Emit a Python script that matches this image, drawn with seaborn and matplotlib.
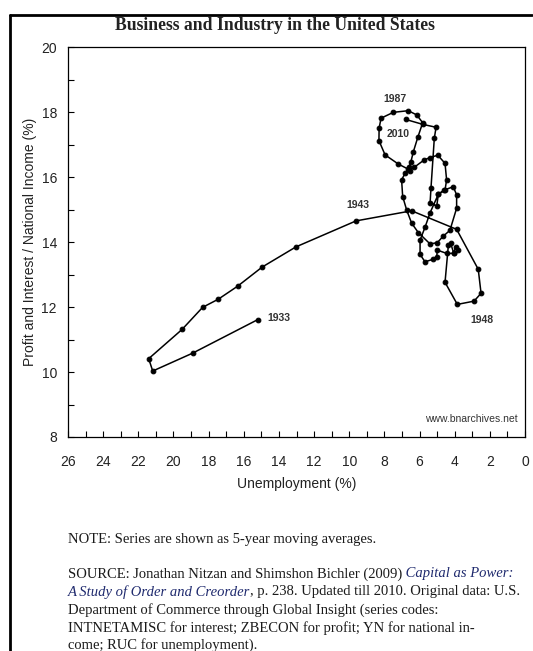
import numpy as np
import pandas as pd
import matplotlib
matplotlib.use("Agg")
import matplotlib.pyplot as plt
import seaborn as sns
from matplotlib.lines import Line2D
from matplotlib.ticker import MultipleLocator

# ---------------- data ----------------
years = list(range(1933, 2011))
unemployment = [
    15.21, 18.91, 21.18, 21.41, 19.51, 18.34, 17.45, 16.35, 14.95, 13.03,   # 1933-1942
    9.61, 6.45, 3.89, 2.66, 2.50, 2.90, 3.85, 4.55, 4.36, 4.23,            # 1943-1952
    4.05, 3.95, 3.79, 4.04, 4.46, 4.99, 5.02, 5.22, 5.69, 5.97,            # 1953-1962
    5.97, 5.69, 5.40, 4.93, 4.60, 4.08, 3.89, 3.89, 4.27, 4.65,            # 1963-1972
    4.99, 5.40, 6.07, 6.45, 6.73, 6.96, 7.02, 6.83, 6.64, 7.21,            # 1973-1982
    7.96, 8.31, 8.30, 8.19, 7.49, 6.64, 6.16, 5.82, 6.10, 6.35,            # 1983-1992
    6.50, 6.60, 6.55, 6.30, 5.75, 5.40, 4.96, 4.55, 4.46, 4.55,            # 1993-2002
    4.93, 5.02, 5.40, 5.35, 5.16, 5.06, 5.82, 6.78,                        # 2003-2010
]
profit_interest = [
    11.61, 10.58, 10.03, 10.41, 11.31, 11.99, 12.24, 12.64, 13.23, 13.85,
    14.65, 14.96, 14.39, 13.16, 12.42, 12.18, 12.08, 12.76, 13.90, 13.96,
    13.65, 13.85, 13.75, 13.65, 13.65, 13.75, 13.55, 13.47, 13.39, 13.62,
    14.06, 14.45, 14.90, 15.47, 15.60, 15.70, 15.45, 15.04, 14.36, 14.18,
    13.98, 13.94, 14.29, 14.58, 14.98, 15.40, 15.91, 16.11, 16.24, 16.40,
    16.68, 17.12, 17.50, 17.81, 17.99, 18.04, 17.91, 17.67, 17.22, 16.78,
    16.45, 16.30, 16.20, 16.30, 16.52, 16.60, 16.67, 16.42, 15.91, 15.60,
    15.47, 15.11, 15.20, 15.65, 17.19, 17.53, 17.62, 17.77,
]
label_years = ["1933", "1943", "1948", "1987", "2010"]
label_x = [14.02, 9.5, 2.47, 7.42, 7.2]
label_y = [11.66, 15.14, 11.6, 18.4, 17.32]

x_ticks = list(range(0, 27, 2))
y_ticks = list(range(8, 21, 2))

title = "Business and Industry in the United States"
x_label = "Unemployment (%)"
y_label = "Profit and Interest / National Income (%)"
watermark = "www.bnarchives.net"

df = pd.DataFrame({"year": years, "unemployment": unemployment,
                   "profit": profit_interest})

# ---------------- figure ----------------
sns.set_theme(style="white")
plt.rcParams["font.family"] = ["Liberation Sans", "DejaVu Sans"]

W, H = 533, 651
fig = plt.figure(figsize=(W / 100, H / 100), dpi=100)
fig.patch.set_facecolor("white")
ax = fig.add_axes([68 / W, 1 - 437 / H, (525 - 68) / W, (437 - 47) / H])

sns.lineplot(data=df, x="unemployment", y="profit", sort=False, estimator=None,
             color="black", linewidth=1.1, marker="o", markersize=3.4,
             markeredgecolor="black", markerfacecolor="black", ax=ax)

ax.set_xlim(26, 0)
ax.set_ylim(8, 20)
ax.set_xticks(x_ticks)
ax.set_yticks(y_ticks)
ax.xaxis.set_minor_locator(MultipleLocator(1))
ax.yaxis.set_minor_locator(MultipleLocator(1))
ax.tick_params(axis="both", which="both", direction="in", length=4, width=0.8,
               color="black", top=False, right=False, bottom=True, left=True)
ax.tick_params(axis="x", which="major", labelsize=10, pad=13, labelcolor="#222222")
ax.tick_params(axis="y", which="major", labelsize=10, pad=8, labelcolor="#222222")
for s in ax.spines.values():
    s.set_color("black")
    s.set_linewidth(0.9)
ax.grid(False)

ax.set_xlabel(x_label, fontsize=10, color="#222222", va="center")
ax.set_ylabel(y_label, fontsize=10, color="#222222", va="center")
ax.xaxis.set_label_coords(0.5, (437 - 484) / 390)
ax.yaxis.set_label_coords((30 - 68) / 457, 0.5)

for t, lx, ly in zip(label_years, label_x, label_y):
    ax.text(lx, ly, t, ha="center", va="center", fontsize=7.5,
            fontweight="bold", color="#333333")

ax.text(0.4, 8.55, watermark, ha="right", va="center", fontsize=7.5,
        color="#333333")

# title
fig.text(275 / W, 1 - 25 / H, title, ha="center", va="center",
         fontsize=12.7, fontweight="bold", family="Liberation Serif", color="#222222")

# outer frame lines
fig.add_artist(Line2D([10 / W, 10 / W], [1 - 15 / H, 0], color="black",
                      linewidth=2.0, transform=fig.transFigure))
fig.add_artist(Line2D([10 / W, 532 / W], [1 - 15 / H, 1 - 15 / H], color="black",
                      linewidth=2.0, transform=fig.transFigure))

# notes
renderer = fig.canvas.get_renderer()
serif = dict(family="Liberation Serif", fontsize=10.5, color="#1a1a1a")
ital = dict(family="Liberation Serif", fontsize=10.5, style="italic", color="#1f2a6e")


def draw_runs(x_px, y_px, runs):
    for text, style in runs:
        t = fig.text(x_px / W, 1 - y_px / H, text, ha="left", va="center", **style)
        bb = t.get_window_extent(renderer)
        x_px += bb.width


draw_runs(68, 540, [("NOTE: Series are shown as 5-year moving averages.", serif)])
draw_runs(68, 574, [("SOURCE: Jonathan Nitzan and Shimshon Bichler (2009)", serif),
                    (" Capital as Power:", ital)])
draw_runs(68, 592, [("A Study of Order and Creorder", ital),
                    (", p. 238. Updated till 2010. Original data: U.S.", serif)])
draw_runs(68, 610, [("Department of Commerce through Global Insight (series codes:", serif)])
draw_runs(68, 628, [("INTNETAMISC for interest; ZBECON for profit; YN for national in-", serif)])
draw_runs(68, 645, [("come; RUC for unemployment).", serif)])

fig.savefig("out.png", dpi=100)
